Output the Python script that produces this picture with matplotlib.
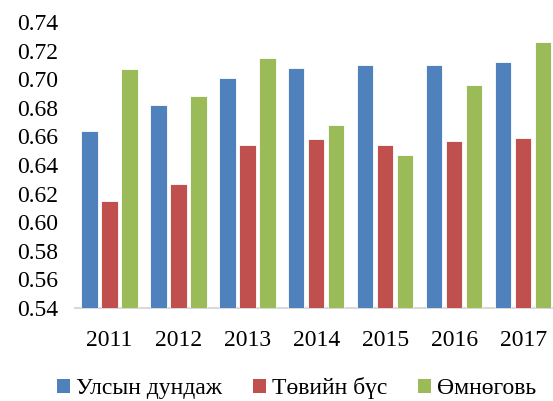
import numpy as np
import matplotlib
matplotlib.use("Agg")
import matplotlib.pyplot as plt
from matplotlib.patches import Patch

# ─── Data ─────────────────────────────────────────────────────────────────────

years      = ["2011", "2012", "2013", "2014", "2015", "2016", "2017"]
national   = [0.664, 0.682, 0.701, 0.708, 0.710, 0.710, 0.712]
central    = [0.615, 0.627, 0.654, 0.658, 0.654, 0.657, 0.659]
umnugovi   = [0.707, 0.688, 0.715, 0.668, 0.647, 0.696, 0.726]
series_labels = ["Улсын дундаж", "Төвийн бүс", "Өмнөговь"]
yticks     = [0.54, 0.56, 0.58, 0.60, 0.62, 0.64, 0.66, 0.68, 0.70, 0.72, 0.74]

colors = ["#4F81BD", "#C0504D", "#9BBB59"]

plt.rcParams["font.family"] = ["Liberation Serif", "DejaVu Serif"]

# ─── Plot ─────────────────────────────────────────────────────────────────────

fig = plt.figure(figsize=(5.53, 4.01), dpi=100)
ax = fig.add_axes([0.1356, 0.232, 0.873, 0.713])

x = np.arange(len(years))
width = 0.235
step = 0.29

for i, (vals, col) in enumerate(zip([national, central, umnugovi], colors)):
    ax.bar(x + (i - 1) * step, np.array(vals) - 0.54, width=width, bottom=0.54,
           color=col, edgecolor="white", linewidth=0.6, zorder=3)

ax.set_xlim(-0.5, len(years) - 0.5)
ax.set_ylim(0.54, 0.74)
ax.set_yticks(yticks)
ax.set_yticklabels([f"{v:.2f}" for v in yticks])
ax.set_xticks(x)
ax.set_xticklabels(years)
ax.tick_params(axis="both", length=0, labelsize=17, colors="black")
ax.tick_params(axis="y", pad=12)
ax.tick_params(axis="x", pad=16)

for side in ["top", "right", "left"]:
    ax.spines[side].set_visible(False)
ax.spines["bottom"].set_color("#d9d9d9")
ax.spines["bottom"].set_linewidth(1.5)

handles = [Patch(facecolor=c, edgecolor="none") for c in colors]
fig.legend(handles, series_labels, loc="center", bbox_to_anchor=(0.536, 0.032),
           ncol=3, frameon=False, fontsize=17, handlelength=0.55,
           handleheight=0.55, handletextpad=0.25, columnspacing=1.3)

fig.savefig("out.png", dpi=100)
